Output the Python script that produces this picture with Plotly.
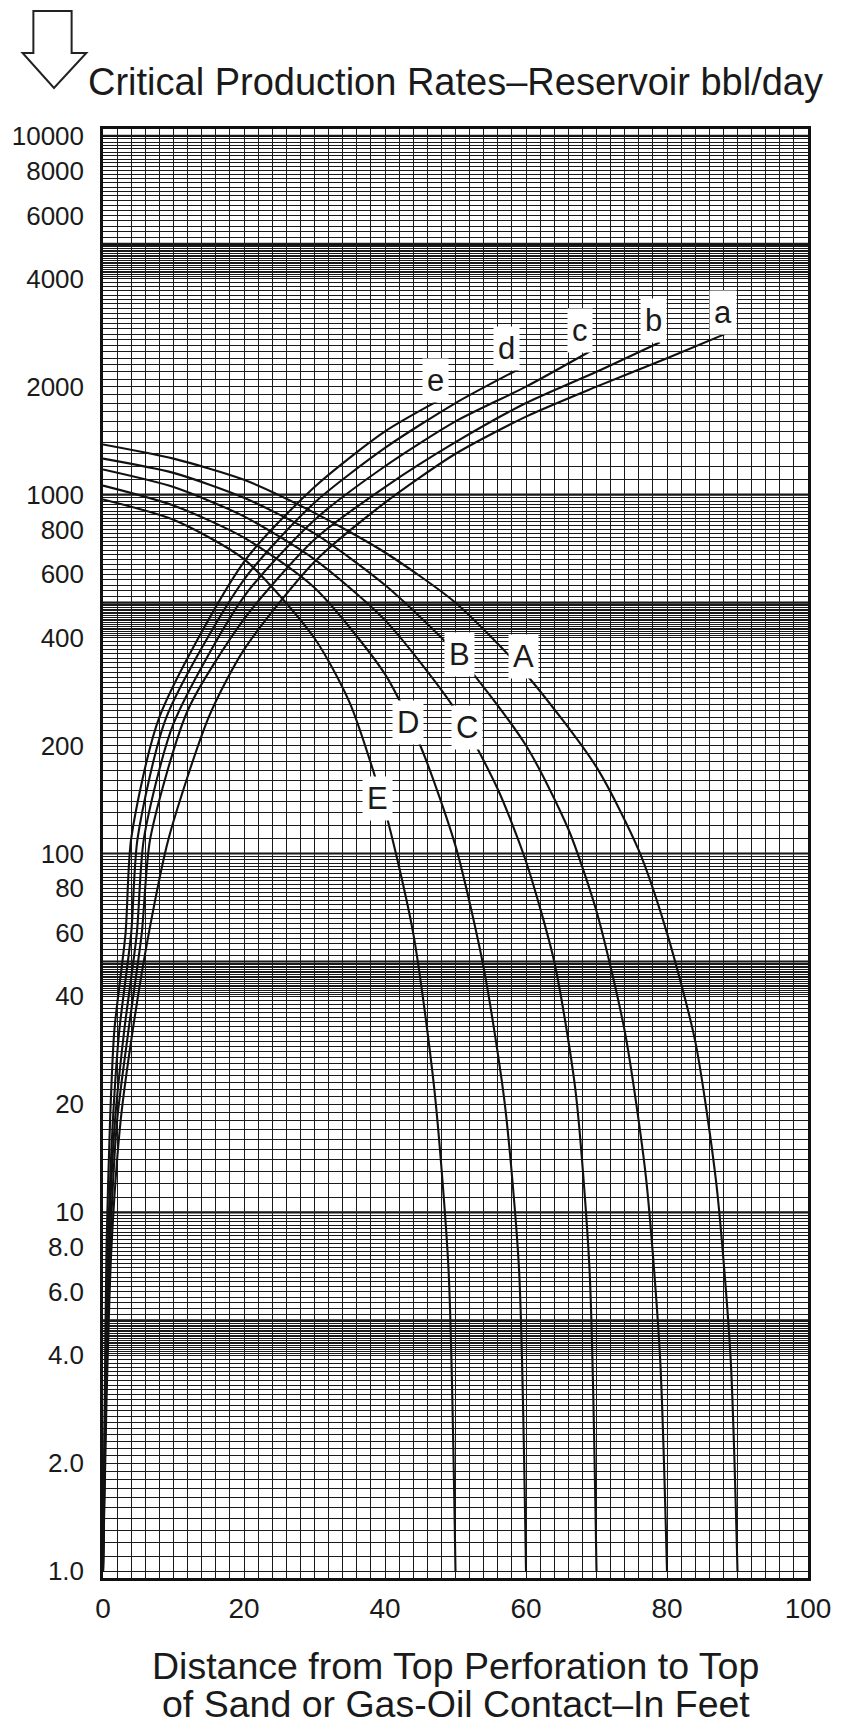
import math
import plotly.graph_objects as go

# ---------------- data ----------------
y_tick_vals = [1, 2, 4, 6, 8, 10, 20, 40, 60, 80, 100, 200, 400, 600, 800,
               1000, 2000, 4000, 6000, 8000, 10000]
y_tick_text = ["1.0", "2.0", "4.0", "6.0", "8.0", "10", "20", "40", "60", "80",
               "100", "200", "400", "600", "800", "1000", "2000", "4000",
               "6000", "8000", "10000"]
x_tick_vals = [0, 20, 40, 60, 80, 100]
x_tick_text = ["0", "20", "40", "60", "80", "100"]

# descending curves (upper-case)
A_x = [0, 10, 20, 30, 40, 50, 60, 70, 76, 80, 84, 87, 89, 90]
A_y = [1380, 1260, 1100, 890, 690, 500, 316, 174, 102, 60, 30, 12, 4, 1]
B_x = [0, 10, 20, 30, 40, 50, 60, 66, 70, 74, 77, 79, 80]
B_y = [1260, 1150, 980, 780, 560, 363, 200, 117, 69, 32, 12.6, 4, 1]
C_x = [0, 10, 20, 30, 40, 50, 56, 60, 64, 67, 69, 70]
C_y = [1175, 1050, 870, 660, 447, 251, 151, 95, 50, 22, 7, 1]
D_x = [0, 10, 20, 30, 40, 45, 50, 54, 57, 59, 60]
D_y = [1060, 933, 759, 550, 316, 200, 105, 48, 20, 7, 1]
E_x = [0, 10, 20, 30, 35, 40, 44, 47, 49, 50]
E_y = [970, 851, 661, 398, 263, 132, 60, 22, 7, 1]

# ascending curves (lower-case)
a_x = [0, 0.5, 1.2, 2.5, 4.2, 6.5, 9.3, 15, 20, 30, 40, 50, 60, 70, 80, 89.3]
a_y = [1, 3, 8, 18, 32, 60, 110, 240, 370, 650, 950, 1300, 1650, 2000, 2400, 2860]
b_x = [0, 0.4, 1.0, 2.0, 3.6, 5.5, 6.7, 12, 20, 30, 40, 50, 60, 70, 79]
b_y = [1, 3, 8, 18, 32, 60, 110, 250, 450, 750, 1050, 1400, 1800, 2200, 2660]
c_x = [0, 0.35, 0.8, 1.7, 3.0, 4.8, 5.8, 10, 20, 30, 40, 50, 60, 69.1]
c_y = [1, 3, 8, 18, 32, 60, 110, 230, 520, 850, 1200, 1600, 2000, 2510]
d_x = [0, 0.3, 0.7, 1.4, 2.3, 4.0, 4.9, 9, 20, 30, 40, 50, 59]
d_y = [1, 3, 8, 18, 32, 60, 110, 240, 580, 950, 1350, 1800, 2240]
e_x = [0, 0.25, 0.5, 1.0, 1.6, 3.2, 4.0, 8, 20, 30, 40, 48.8]
e_y = [1, 3, 8, 18, 32, 60, 110, 240, 650, 1050, 1500, 1884]

# curve label positions
label_text = ["a", "b", "c", "d", "e", "A", "B", "C", "D", "E"]
label_x = [87.9, 78.1, 67.7, 57.2, 47.1, 59.7, 50.5, 51.6, 43.2, 39.0]
label_y = [3222, 3048, 2859, 2552, 2080, 354, 359, 225, 232, 142]

# grid values (semi-log paper rulings)
grid_x = list(range(0, 101, 2))
grid_y = []
for base in [1, 10, 100, 1000]:
    vals = [1 + 0.1 * i for i in range(10)] + [2 + 0.1 * i for i in range(20)] + \
           [4 + 0.05 * i for i in range(20)] + [5 + 0.2 * i for i in range(25)]
    grid_y += [round(v * base, 6) for v in vals]
grid_y.append(10000)
heavy_y = [5, 10, 50, 100, 500, 1000, 5000, 10000]

# ---------------- figure ----------------
W, H = 843, 1724
L, R, T, B = 95, 814, 129, 1578
fig = go.Figure()

def px2paper(px, py):
    return (px - L) / (R - L), (B - py) / (B - T)

font_fam = "Liberation Sans, Arial, sans-serif"
line_style = dict(color="#111111", width=2.1)
for xs, ys in [(A_x, A_y), (B_x, B_y), (C_x, C_y), (D_x, D_y), (E_x, E_y),
               (a_x, a_y), (b_x, b_y), (c_x, c_y), (d_x, d_y), (e_x, e_y)]:
    fig.add_trace(go.Scatter(x=xs, y=ys, mode="lines",
                             line=dict(**line_style, shape="spline", smoothing=0.7),
                             hoverinfo="skip", showlegend=False))

for yv in heavy_y:
    fig.add_shape(type="line", xref="paper", x0=0, x1=1, yref="y", y0=yv, y1=yv,
                  line=dict(color="#111111", width=2.2), layer="below")

for t, xv, yv in zip(label_text, label_x, label_y):
    fig.add_annotation(x=xv, y=math.log10(yv), xref="x", yref="y", text=t, showarrow=False,
                       font=dict(family=font_fam, size=31, color="#1a1a1a"),
                       bgcolor="white", borderpad=4)

# title
tx, ty = px2paper(78, 82)
fig.add_annotation(x=tx, y=ty, xref="paper", yref="paper", xanchor="left", yanchor="middle",
                   text="Critical Production Rates\u2013Reservoir bbl/day", showarrow=False,
                   font=dict(family=font_fam, size=38, color="#1a1a1a"))
# x axis title (two lines)
for txt, py in [("Distance from Top Perforation to Top", 1666),
                ("of Sand or Gas-Oil Contact\u2013In Feet", 1704)]:
    _, yy = px2paper(0, py)
    fig.add_annotation(x=0.5, y=yy, xref="paper", yref="paper", xanchor="center", yanchor="middle",
                       text=txt, showarrow=False, borderpad=0,
                       font=dict(family=font_fam, size=37.5, color="#1a1a1a"))

# outline arrow
pts = [(24, 11), (63, 11), (63, 53), (78, 53), (45, 88), (13, 53), (24, 53)]
path = "M " + " L ".join("%.5f,%.5f" % px2paper(px, py) for px, py in pts) + " Z"
fig.add_shape(type="path", xref="paper", yref="paper", path=path,
              line=dict(color="#222222", width=2), fillcolor="white")

fig.update_layout(
    width=W, height=H, margin=dict(l=L, r=W - R, t=T, b=H - B),
    paper_bgcolor="white", plot_bgcolor="white", showlegend=False,
    xaxis=dict(range=[0, 100], tickmode="array", tickvals=x_tick_vals, ticktext=x_tick_text,
               showgrid=True, gridcolor="#1a1a1a", gridwidth=1.2, zeroline=False,
               ticks="", ticklabelstandoff=4,
               tickfont=dict(family=font_fam, size=28, color="#1a1a1a"),
               minor=dict(tickmode="array", tickvals=grid_x, showgrid=True,
                          gridcolor="#1a1a1a", gridwidth=1.2, ticks=""),
               showline=True, linecolor="#111111", linewidth=2.5, mirror=True),
    yaxis=dict(type="log", range=[-0.019, 4.019], tickmode="array", tickvals=y_tick_vals,
               ticktext=y_tick_text, showgrid=False, zeroline=False, ticks="",
               ticklabelstandoff=11,
               tickfont=dict(family=font_fam, size=26, color="#1a1a1a"),
               minor=dict(tickmode="array", tickvals=grid_y, showgrid=True,
                          gridcolor="#1a1a1a", gridwidth=1.1, ticks=""),
               showline=True, linecolor="#111111", linewidth=2.5, mirror=True),
)

fig.write_html("out.html")
